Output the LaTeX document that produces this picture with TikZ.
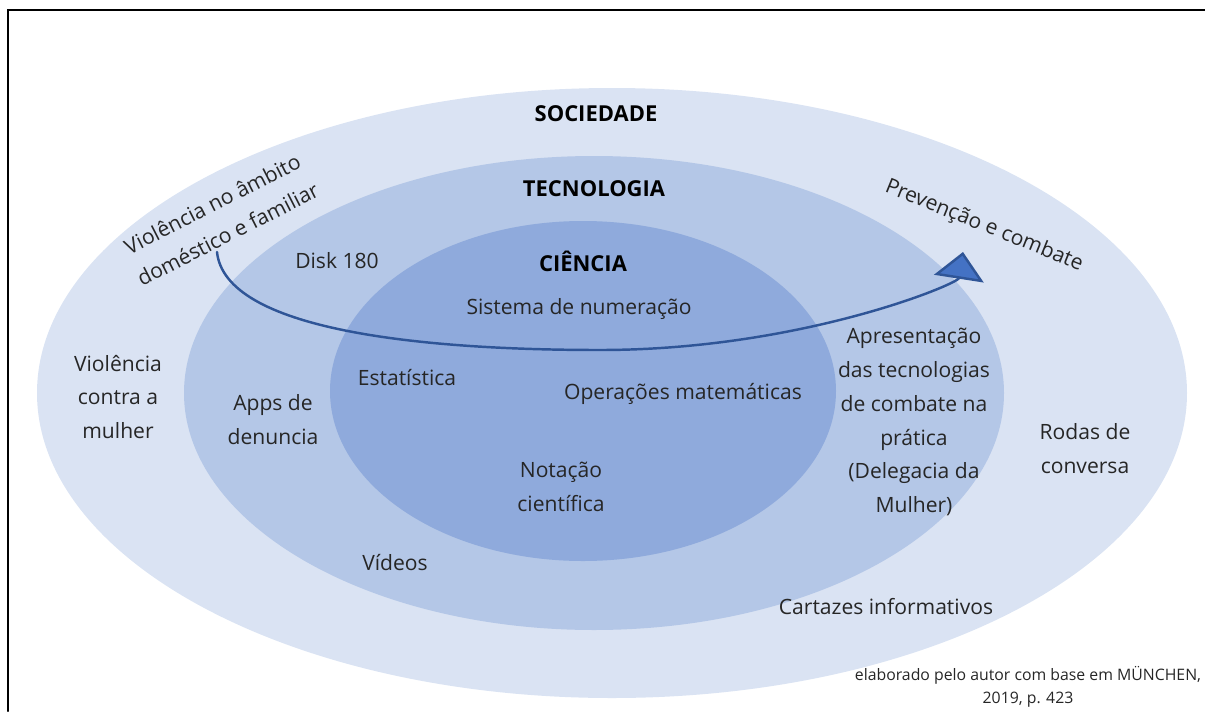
\documentclass[tikz,border=0pt]{standalone}
\usepackage{fontspec}
\setmainfont{Open Sans}
\usetikzlibrary{positioning,arrows.meta}
\definecolor{socblue}{HTML}{DAE3F3}
\definecolor{tecblue}{HTML}{B4C7E7}
\definecolor{cieblue}{HTML}{8FAADC}
\definecolor{arcblue}{HTML}{2F5597}
\definecolor{tipblue}{HTML}{4472C4}
\tikzset{
  note/.style ={font=\fontsize{12}{19.3}\selectfont, align=center, inner sep=0pt, text=black!85},
  layer/.style={font=\fontsize{12.5}{15}\selectfont\bfseries, inner sep=0pt},
}

\begin{document}
\begin{tikzpicture}[x=0.02cm, y=-0.02cm, line cap=round,
  arc/.style={line width=1.4pt, arcblue, -{Triangle[length=5.4mm,width=10mm,fill=tipblue]}},
  small/.style={font=\fontsize{9}{12.8}\selectfont, align=center, inner sep=0pt, text=black!85}
]
\useasboundingbox (0,0) rectangle (1205,711);

%--- Frame (cut off at the right and bottom) ---
\coordinate (FL) at (8,711);
\coordinate (TL) at (8,10);
\coordinate (TR) at (1205,10);
\draw[line width=1.2pt] (FL) -- (TL) -- (TR);

%--- Three nested ellipses ---
\fill[socblue] (612,393) ellipse [x radius=575, y radius=305];
\fill[tecblue] (594,393) ellipse [x radius=410, y radius=237];
\fill[cieblue] (583,391) ellipse [x radius=253, y radius=170];

%--- Layer titles ---
\node[layer] (soc) at (596,114) {SOCIEDADE};
\node[layer] (tec) at (594,189) {TECNOLOGIA};
\node[layer] (cie) at (583,261) {CIÊNCIA};

%--- Arrow from problem to action ---
\coordinate (start) at (217,252);
\coordinate (low) at (600,350);
\coordinate (stop) at (963,252);
\draw[arc] (start) .. controls (225,330) and (420,350) .. (low)
  .. controls (800,350) and (958,284) .. (stop);

\node[note, rotate=27] (viol) at (220,219) {Violência no âmbito\\doméstico e familiar};
\node[note, rotate=-22] (prev) at (984,226) {Prevenção e combate};

%--- Sociedade ---
\node[note] (mulher) at (118,397) {Violência\\contra a\\mulher};
\node[note] (rodas) at (1085,449) {Rodas de\\conversa};
\node[note] (cartaz) at (886,607) {Cartazes informativos};

%--- Tecnologia ---
\node[note] (disk) at (337,261) {Disk 180};
\node[note] (apps) at (273,420) {Apps de\\denuncia};
\node[note] (video) at (395,563) {Vídeos};
\node[note] (apres) at (914,422) {Apresentação\\das tecnologias\\de combate na\\prática\\(Delegacia da\\Mulher)};

%--- Ciência ---
\node[note] (sist) at (579,309) {Sistema de numeração};
\node[note] (estat) at (407,378) {Estatística};
\node[note] (oper) at (683,394) {Operações matemáticas};
\node[note] (notac) at (561,487) {Notação\\científica};

%--- Source ---
\node[small] (fonte) at (1028,687) {elaborado pelo autor com base em MÜNCHEN,\\2019, p. 423};

\end{tikzpicture}
\end{document}
